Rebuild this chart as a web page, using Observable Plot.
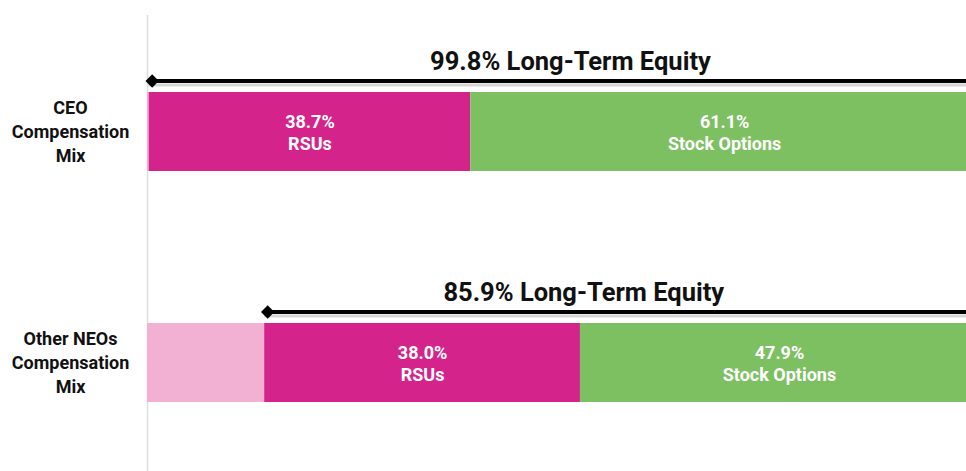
<!DOCTYPE html>
<html>
<head>
<meta charset="utf-8">
<script src="https://cdn.jsdelivr.net/npm/d3@7"></script>
<script src="https://cdn.jsdelivr.net/npm/@observablehq/plot@0.6"></script>
<style>
  html, body { margin: 0; padding: 0; background: #fff; overflow: hidden; }
  #chart svg { display: block; overflow: hidden; }
</style>
</head>
<body>
<div id="chart"></div>
<script>
// ---- data ----
const rows = ["CEO", "Other NEOs"];
const rowLabels = ["CEO\nCompensation\nMix", "Other NEOs\nCompensation\nMix"];
const types = ["Other", "RSUs", "Stock Options"];
const ceoValues = [0.2, 38.7, 61.1];
const neoValues = [14.1, 38.0, 47.9];
const equityTotals = [99.8, 85.9];
const equityLabelX = [50.9, 52.5];
const colors = ["#F2B1D2", "#D4248C", "#7DC062"];

const segments = [];
[ceoValues, neoValues].forEach((vals, r) => {
  vals.forEach((v, i) => segments.push({row: rows[r], type: types[i], value: v}));
});
const equity = rows.map((row, i) => ({
  row, total: equityTotals[i], start: 100 - equityTotals[i], labelX: equityLabelX[i]
}));

const font = "Roboto, 'Liberation Sans', sans-serif";

const chart = Plot.plot({
  width: 966,
  height: 471,
  marginLeft: 147,
  marginRight: 0,
  marginTop: 15,
  marginBottom: 0,
  x: {domain: [0, 100], range: [147, 978], axis: null},
  y: {domain: rows, range: [92, 402], paddingInner: 0.66, paddingOuter: 0, axis: null},
  color: {domain: types, range: colors},
  style: {fontFamily: font, background: "white", overflow: "hidden"},
  marks: [
    Plot.ruleX([0], {stroke: "#dddddd", strokeWidth: 1.5}),
    Plot.barX(segments, Plot.stackX({x: "value", y: "row", fill: "type"})),
    Plot.text(segments, Plot.stackX({
      x: "value", y: "row", z: "type",
      text: d => d.type === "Other" ? "" : `${d.value.toFixed(1)}%\n${d.type}`,
      fill: "white", fontSize: 18, fontWeight: "bold", lineHeight: 1.2
    })),
    Plot.text(rows, {
      y: d => d, text: (d, i) => rowLabels[i], frameAnchor: "left", dx: -77, dy: -2,
      textAnchor: "middle", fontSize: 18, fontWeight: "bold", lineHeight: 1.33, fill: "#111"
    }),
    Plot.ruleY(equity, {y: "row", x1: "start", x2: 102, stroke: "#bbbbbb", strokeOpacity: 0.6, strokeWidth: 3, dy: -47}),
    Plot.ruleY(equity, {y: "row", x1: "start", x2: 102, stroke: "black", strokeWidth: 4, dy: -51}),
    Plot.dot(equity, {x: "start", y: "row", symbol: "diamond2", r: 6, fill: "black", stroke: "none", dx: 3, dy: -51}),
    Plot.text(equity, {
      x: "labelX", y: "row", text: d => `${d.total.toFixed(1)}% Long-Term Equity`,
      dy: -70, fontSize: 25.5, fontWeight: "bold", fill: "#111"
    })
  ]
});
document.getElementById("chart").appendChild(chart);
</script>
</body>
</html>
